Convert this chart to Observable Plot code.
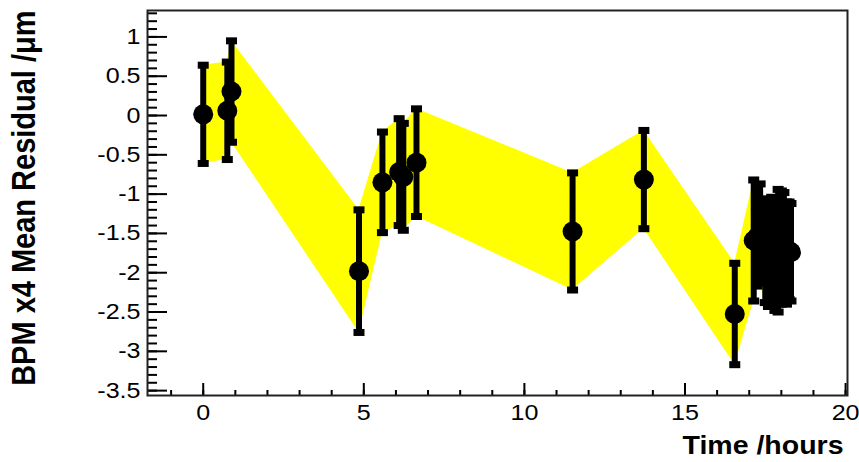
<!DOCTYPE html>
<html>
<head>
<meta charset="utf-8">
<script src="https://cdn.jsdelivr.net/npm/d3@7"></script>
<script src="https://cdn.jsdelivr.net/npm/@observablehq/plot@0.6"></script>
<style>
  body { margin: 0; background: #fff; }
</style>
</head>
<body>
<div id="chart"></div>
<script>
// Mean BPM x4 residual per run, with its uncertainty, against time of day
const hours = [0, 0.75, 0.88, 4.85, 5.58, 6.1, 6.23, 6.64, 11.5, 13.72, 16.55,
               17.14, 17.24, 17.34, 17.5, 17.6, 17.7, 17.8, 17.9, 18.0, 18.08, 18.16, 18.24, 18.3];
const residual = [0.015, 0.06, 0.305, -1.98, -0.85, -0.72, -0.78, -0.6, -1.475, -0.815, -2.525,
                  -1.59, -1.55, -1.5, -1.72, -1.75, -1.7, -1.78, -1.72, -1.68, -1.66, -1.75, -1.72, -1.74];
const residualError = [0.625, 0.62, 0.645, 0.78, 0.64, 0.68, 0.68, 0.685, 0.745, 0.625, 0.645,
                       0.77, 0.62, 0.63, 0.66, 0.68, 0.66, 0.7, 0.78, 0.72, 0.68, 0.65, 0.62, 0.62];

const xMajorTicks = [0, 5, 10, 15, 20];
const yMajorTicks = [-3.5, -3, -2.5, -2, -1.5, -1, -0.5, 0, 0.5, 1];
const xMinorTicks = d3.range(-1, 21);
const yMinorTicks = d3.range(-35, 14).map(i => i / 10);

const xTitle = "Time /hours";
const yTitle = "BPM x4 Mean Residual /μm";

const points = hours.map((h, i) => ({hours: h, residual: residual[i], error: residualError[i]}));
const caps = points.flatMap(d => [
  {hours: d.hours, value: d.residual + d.error},
  {hours: d.hours, value: d.residual - d.error}
]);

// square end caps on the error bars
const capSymbol = {draw(ctx) { ctx.rect(-5.5, -3.5, 11, 7); }};

const chart = Plot.plot({
  width: 859,
  height: 462,
  marginLeft: 147,
  marginRight: 12,
  marginTop: 10,
  marginBottom: 67,
  style: {fontFamily: "'Liberation Sans', Arial, sans-serif", fontSize: "22px", background: "#fff", color: "#000"},
  x: {domain: [-1.735, 20.06]},
  y: {domain: [-3.562, 1.336]},
  marks: [
    Plot.areaY(points, {x: "hours", y1: d => d.residual - d.error, y2: d => d.residual + d.error, fill: "#ffff00"}),
    Plot.ruleX(points, {x: "hours", y1: d => d.residual - d.error, y2: d => d.residual + d.error, stroke: "#000", strokeWidth: 6}),
    Plot.dot(caps, {x: "hours", y: "value", symbol: capSymbol, fill: "#000"}),
    Plot.dot(points, {x: "hours", y: "residual", r: 10, fill: "#000"}),
    Plot.axisY({ticks: yMinorTicks, tickSize: -10, fill: "none", strokeWidth: 2}),
    Plot.axisY({ticks: yMajorTicks, tickSize: -20, fill: "none", strokeWidth: 2}),
    Plot.axisY({ticks: yMajorTicks, tickSize: 0, tickPadding: 7, tickFormat: d => String(d), label: null}),
    Plot.axisX({ticks: xMinorTicks, tickSize: -5, fill: "none", strokeWidth: 2}),
    Plot.axisX({ticks: xMajorTicks, tickSize: -12, fill: "none", strokeWidth: 2}),
    Plot.axisX({ticks: xMajorTicks, tickSize: 0, tickPadding: 9, tickFormat: d => String(d), label: null}),
    Plot.frame({stroke: "#222", strokeWidth: 2}),
    Plot.text([xTitle], {text: d => d, frameAnchor: "bottom-right", dx: -4, dy: 58, textAnchor: "end", fontSize: 25, fontWeight: "bold"}),
    Plot.text([yTitle], {text: d => d, frameAnchor: "top-left", dx: -136, rotate: -90, textAnchor: "end", fontSize: 29, fontWeight: "bold"})
  ]
});

// widen the lettering slightly, as in the original ROOT canvas
d3.select(chart).selectAll("text").each(function () {
  const x = +this.getAttribute("x") || 0;
  const y = +this.getAttribute("y") || 0;
  const t = this.getAttribute("transform") || "";
  const s = this.textContent === yTitle ? "scale(1,1.14)" : "scale(1.14,1)";
  this.setAttribute("transform", `${t} translate(${x},${y}) ${s} translate(${-x},${-y})`);
});

document.getElementById("chart").append(chart);
</script>
</body>
</html>
